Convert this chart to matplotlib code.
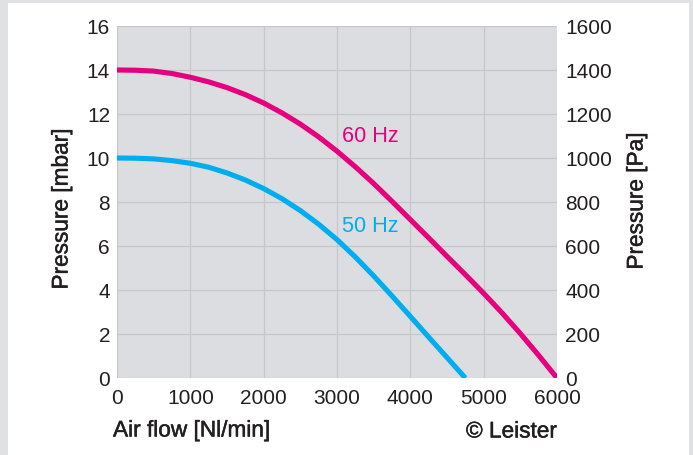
import matplotlib
matplotlib.use("Agg")
import matplotlib.pyplot as plt
import matplotlib.patheffects as pe
from matplotlib.patches import Rectangle

# Datos (caudal de aire vs presion)
flujo_60 = [0, 250, 500, 750, 1000, 1250, 1500, 1750, 2000, 2250, 2500, 2750,
            3000, 3250, 3500, 3750, 4000, 4250, 4500, 4750, 5000, 5250, 5500,
            5750, 6000]
presion_60 = [14.0, 13.99, 13.95, 13.84, 13.67, 13.46, 13.2, 12.88, 12.5,
              12.05, 11.54, 10.96, 10.31, 9.6, 8.84, 8.03, 7.2, 6.37, 5.53,
              4.7, 3.85, 2.96, 2.02, 1.03, 0.0]

flujo_50 = [0, 250, 500, 750, 1000, 1250, 1500, 1750, 2000, 2250, 2500, 2750,
            3000, 3250, 3500, 3750, 4000, 4250, 4500, 4750]
presion_50 = [10.0, 9.99, 9.96, 9.88, 9.76, 9.58, 9.32, 9.0, 8.61, 8.15, 7.61,
              6.99, 6.29, 5.5, 4.64, 3.73, 2.8, 1.86, 0.93, 0.0]

xticks = [0, 1000, 2000, 3000, 4000, 5000, 6000]
yticks_mbar = [0, 2, 4, 6, 8, 10, 12, 14, 16]
yticks_pa = [0, 200, 400, 600, 800, 1000, 1200, 1400, 1600]

rosa = "#e6007e"
celeste = "#00aeef"
texto = "#231f20"

plt.rcParams["font.family"] = ["Liberation Sans", "DejaVu Sans"]

W, H = 693, 455
fig = plt.figure(figsize=(W / 100, H / 100), dpi=100)
fig.patch.set_facecolor("#e0e1e3")
fig.patches.append(Rectangle((8 / W, 0), (689 - 8) / W, (H - 3) / H,
                             transform=fig.transFigure, facecolor="white",
                             edgecolor="none", zorder=-5))

x0, x1, y0, y1 = 117, 557, 26, 378
ax = fig.add_axes([x0 / W, (H - y1) / H, (x1 - x0) / W, (y1 - y0) / H])
ax.set_facecolor("#dcdde0")
ax.set_xlim(0, 6000)
ax.set_ylim(0, 16)
ax.set_xticks(xticks)
ax.set_yticks(yticks_mbar)
ax.grid(True, color="#c6c7c9", linewidth=0.9)
ax.set_axisbelow(True)
for s in ax.spines.values():
    s.set_visible(False)
ax.tick_params(length=0, labelsize=15, colors=texto)
ax.tick_params(axis="x", pad=8)
ax.tick_params(axis="y", pad=5)

ax.plot(flujo_60, presion_60, color=rosa, linewidth=3.7, solid_capstyle="butt")
ax.plot(flujo_50, presion_50, color=celeste, linewidth=3.7, solid_capstyle="butt")

ax.text(3070, 11.0, "60 Hz", color=rosa, fontsize=15.6, va="center", ha="left")
ax.text(3070, 6.9, "50 Hz", color=celeste, fontsize=15.6, va="center", ha="left")

ax2 = ax.twinx()
ax2.set_ylim(0, 1600)
ax2.set_yticks(yticks_pa)
for s in ax2.spines.values():
    s.set_visible(False)
ax2.tick_params(length=0, labelsize=15, colors=texto, pad=6)

grueso = [pe.withStroke(linewidth=0.35, foreground=texto)]
etiq = dict(fontsize=16.3, color=texto, path_effects=grueso)
fig.text(61 / W, 1 - 209 / H, "Pressure [mbar]", rotation=90, ha="center",
         va="center", **etiq)
fig.text(636 / W, 1 - 201 / H, "Pressure [Pa]", rotation=90, ha="center",
         va="center", **etiq)
fig.text(113 / W, 1 - 430 / H, "Air flow [Nl/min]", ha="left", va="center",
         **etiq)
fig.text(557 / W, 1 - 431 / H, "\u00a9 Leister", ha="right", va="center",
         **etiq)

fig.savefig("out.png", dpi=100, facecolor=fig.get_facecolor())
